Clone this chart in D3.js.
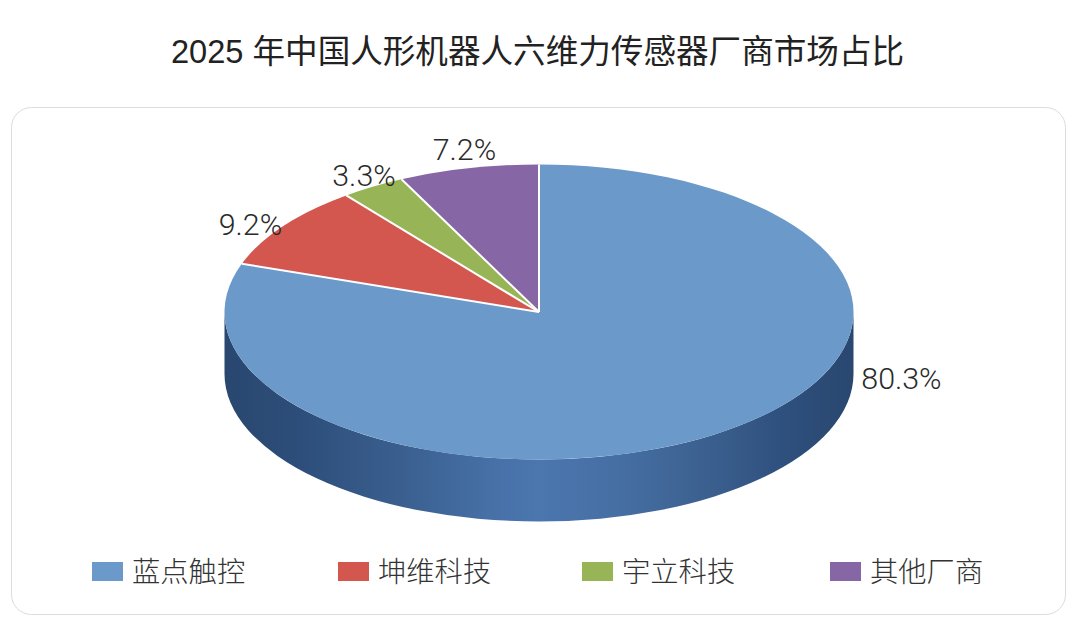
<!DOCTYPE html>
<html><head><meta charset="utf-8">
<script src="https://cdn.jsdelivr.net/npm/d3@7"></script>
<style>html,body{margin:0;padding:0;background:#fff}svg{display:block}</style>
</head><body><svg id="c" width="1080" height="634"></svg>
<script>
const titleText = "2025 年中国人形机器人六维力传感器厂商市场占比";
const categories = ["蓝点触控","坤维科技","宇立科技","其他厂商"];
const shares = [80.3,9.2,3.3,7.2];
const colors = ["#6b9aca","#d4574f","#97b556","#8766a6"];
const labelOffsets = [[180,-53],[-33,-1],[-9,-11],[-4,-18]];
const legendSwatchX = [92,338,582,830];

const CJK = '"Noto Sans CJK SC","Noto Sans",sans-serif';
const svg = d3.select("#c");
const cx=539, cy=312, rx=314.5, ry=147.5, depth=62;
const yScale = ry/rx;

const defs = svg.append("defs");
const grad = defs.append("linearGradient").attr("id","wall").attr("x1","0").attr("x2","1").attr("y1","0").attr("y2","0");
[[0,"#29476f"],[0.12,"#2d4e7a"],[0.28,"#3a5f8f"],[0.42,"#4670a6"],[0.5,"#4b76ae"],[0.62,"#466fa4"],[0.76,"#3c6190"],[0.88,"#2f517f"],[1,"#29476f"]]
 .forEach(([o,c])=>grad.append("stop").attr("offset",o).attr("stop-color",c));

svg.append("rect").attr("x",11.5).attr("y",107.5).attr("width",1054).attr("height",507).attr("rx",20)
  .attr("fill","#fff").attr("stroke","#dcdcdc").attr("stroke-width",1);

svg.append("text").attr("x",537.5).attr("y",63).attr("text-anchor","middle")
  .attr("font-family",'"Liberation Sans",'+CJK).attr("font-size",32.6).attr("fill","#222").text(titleText);

// pie
const pieData = d3.pie().sort(null).value(d=>d)(shares);
svg.append("path")
  .attr("d",`M${cx-rx},${cy} L${cx-rx},${cy+depth} A${rx},${ry} 0 0 0 ${cx+rx},${cy+depth} L${cx+rx},${cy} A${rx},${ry} 0 0 1 ${cx-rx},${cy} Z`)
  .attr("fill","url(#wall)");

const arc = d3.arc().innerRadius(0).outerRadius(rx);
const topFace = svg.append("g").attr("transform",`translate(${cx},${cy}) scale(1,${yScale})`);
topFace.selectAll("path.s").data(pieData).join("path").attr("class","s").attr("d",arc).attr("fill",(d,i)=>colors[i]);

const edge = a => [cx+rx*Math.sin(a), cy-ry*Math.cos(a)];
svg.append("g").selectAll("line").data(pieData).join("line")
  .attr("x1",cx).attr("y1",cy)
  .attr("x2",d=>edge(d.startAngle)[0]).attr("y2",d=>edge(d.startAngle)[1])
  .attr("stroke","#fff").attr("stroke-width",2);

svg.append("g").selectAll("text").data(pieData).join("text")
  .attr("x",(d,i)=>edge((d.startAngle+d.endAngle)/2)[0]+labelOffsets[i][0])
  .attr("y",(d,i)=>edge((d.startAngle+d.endAngle)/2)[1]+labelOffsets[i][1]+10)
  .attr("text-anchor","middle")
  .attr("font-family","Roboto, sans-serif").attr("font-weight",300).attr("font-size",30.4).attr("fill","#2a2a2a")
  .text(d=>d.value.toFixed(1)+"%");

// legend
const lg = svg.append("g").selectAll("g").data(categories).join("g");
lg.append("rect").attr("x",(d,i)=>legendSwatchX[i]).attr("y",562).attr("width",31).attr("height",19).attr("fill",(d,i)=>colors[i]);
lg.append("text").attr("x",(d,i)=>legendSwatchX[i]+40).attr("y",582).attr("font-family",CJK).attr("font-size",28.3).attr("font-weight",300).attr("fill","#333").text(d=>d);
</script></body></html>
